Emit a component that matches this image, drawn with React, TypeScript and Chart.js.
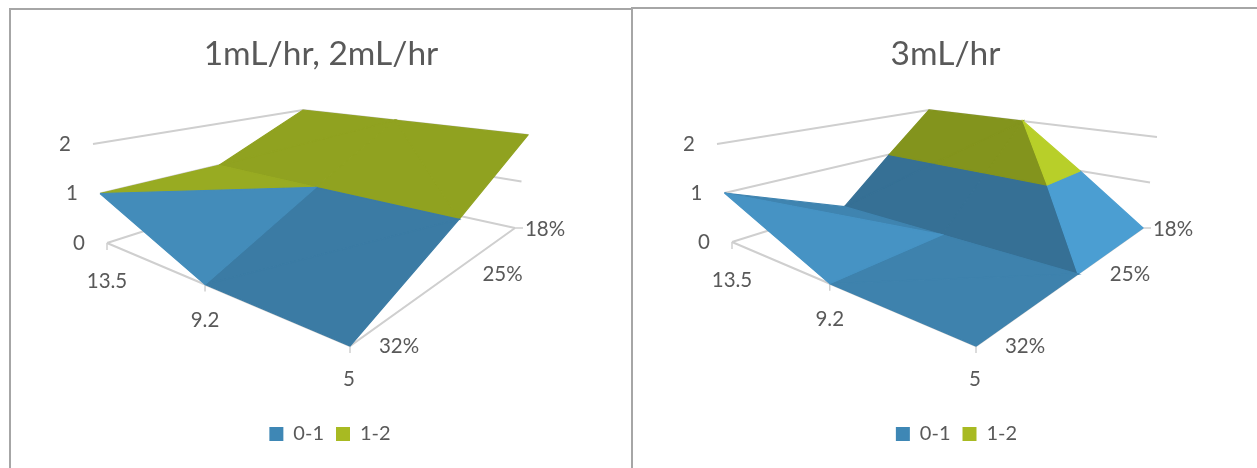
import React, { useEffect, useRef } from "react";
import { Chart, registerables } from "chart.js";

Chart.register(...registerables);

// Surface categories
const depthLabels = ["13.5", "9.2", "5"];
const rateLabels = ["32%", "25%", "18%"];
const levelLabels = ["0", "1", "2"];
const bandLabels = ["0-1", "1-2"];

// Surface heights: one row per rate, one column per depth
const lowRateHeights = [
  [1, 0, 0],
  [1, 1, 1],
  [2, 2, 2],
];
const highRateHeights = [
  [1, 0, 0],
  [0, 0, 0],
  [2, 2, 0],
];

const titleLow = "1mL/hr, 2mL/hr";
const titleHigh = "3mL/hr";

const TEXT = "#595959";
const GRID = "#CFCFCF";
const FONT = "Lato, Carlito, Calibri, sans-serif";
const BAND_SURFACE = [
  [62, 130, 173],
  [152, 171, 34],
];
const BAND_KEY = ["#3E87B5", "#A8BA22"];

type P = [number, number];

// Unit square to quadrilateral mapping for a plane of the 3-D box
function quadMap(q: P[]) {
  const [[x0, y0], [x1, y1], [x2, y2], [x3, y3]] = q;
  const dx1 = x1 - x2, dx2 = x3 - x2, sx = x0 - x1 + x2 - x3;
  const dy1 = y1 - y2, dy2 = y3 - y2, sy = y0 - y1 + y2 - y3;
  const det = dx1 * dy2 - dx2 * dy1;
  const g = (sx * dy2 - dx2 * sy) / det;
  const h = (dx1 * sy - sx * dy1) / det;
  const a = x1 - x0 + g * x1, b = x3 - x0 + h * x3;
  const d = y1 - y0 + g * y1, e = y3 - y0 + h * y3;
  return (u: number, v: number): P => {
    const w = g * u + h * v + 1;
    return [(a * u + b * v + x0) / w, (d * u + e * v + y0) / w];
  };
}

// Camera of a panel: box corners on the floor and at level 2 (depth side, front, rate side, back)
function makeCamera(floor: P[], top: P[]) {
  const f = quadMap(floor);
  const t = quadMap(top);
  return (i: number, j: number, z: number): P => {
    const a = f(i / 2, j / 2);
    const b = t(i / 2, j / 2);
    const k = z / 2;
    return [a[0] + (b[0] - a[0]) * k, a[1] + (b[1] - a[1]) * k];
  };
}

type V = [number, number, number];

// Fixed triangulation of the 3 x 3 grid, painted from back to front
const TRIANGLES: [number, number][][] = [
  [[0, 1], [1, 1], [1, 2]],
  [[0, 1], [1, 2], [0, 2]],
  [[1, 1], [2, 1], [1, 2]],
  [[2, 1], [2, 2], [1, 2]],
  [[0, 0], [1, 1], [0, 1]],
  [[1, 0], [2, 1], [1, 1]],
  [[1, 0], [2, 0], [2, 1]],
  [[0, 0], [1, 0], [1, 1]],
];

function clipZ(poly: V[], limit: number, keepAbove: boolean): V[] {
  const out: V[] = [];
  const inside = (p: V) => (keepAbove ? p[2] >= limit : p[2] <= limit);
  poly.forEach((p, n) => {
    const q = poly[(n + 1) % poly.length];
    if (inside(p)) out.push(p);
    if (inside(p) !== inside(q)) {
      const t = (limit - p[2]) / (q[2] - p[2]);
      out.push([p[0] + (q[0] - p[0]) * t, p[1] + (q[1] - p[1]) * t, limit]);
    }
  });
  return out;
}

// Lambert-style brightness of a facet from its slopes along depth and rate
function facetShade(t: V[]) {
  const [p, q, r] = t;
  const ux = q[0] - p[0], uy = q[1] - p[1], uz = q[2] - p[2];
  const vx = r[0] - p[0], vy = r[1] - p[1], vz = r[2] - p[2];
  const n = ux * vy - uy * vx;
  const a = (uz * vy - uy * vz) / n;
  const b = (ux * vz - uz * vx) / n;
  return (5 - 0.763 * a - 0.175 * b) / Math.sqrt(25 + a * a + b * b);
}

function line(points: P[], color = GRID, width = 2) {
  return {
    data: points.map(([x, y]) => ({ x, y })),
    showLine: true,
    borderColor: color,
    borderWidth: width,
    pointRadius: 0,
    fill: false,
    label: "",
    clip: false,
  };
}

function surfaceDatasets(heights: number[][], cam: (i: number, j: number, z: number) => P) {
  const sets: any[] = [];
  for (const tri of TRIANGLES) {
    const verts = tri.map(([i, j]) => [i, j, heights[j][i]] as V);
    const zs = verts.map((v) => v[2]);
    const lo = Math.min(...zs), hi = Math.max(...zs);
    const shade = facetShade(verts);
    BAND_SURFACE.forEach((rgb, band) => {
      if (lo >= band + 1) return;
      if (hi <= band && !(lo === hi && lo === band)) return;
      const part = clipZ(clipZ(verts, band, true), band + 1, false);
      if (part.length < 3) return;
      const c = rgb.map((v) => Math.min(255, Math.round(v * shade)));
      const css = `rgb(${c[0]},${c[1]},${c[2]})`;
      const pts = part.map((v) => cam(v[0], v[1], v[2]));
      pts.push(pts[0]);
      sets.push({ ...line(pts, css, 1.2), fill: "shape", backgroundColor: css });
    });
  }
  return sets;
}

function frameDatasets(cam: (i: number, j: number, z: number) => P) {
  const sets: any[] = [];
  // level lines along the two back walls
  [2, 1, 0].forEach((z) => {
    sets.push(line([cam(0, 0, z), cam(0, 2, z), cam(2, 2, z)]));
  });
  // front edges of the floor
  sets.push(line([cam(0, 0, 0), cam(2, 0, 0), cam(2, 2, 0)]));
  // tick marks
  depthLabels.forEach((_, i) => {
    const p = cam(i, 0, 0);
    sets.push(line([p, [p[0], p[1] + 7]], GRID, 1.5));
  });
  const end = cam(2, 2, 0);
  sets.push(line([end, [end[0] + 8, end[1]]], GRID, 1.5));
  return sets;
}

const depthOffsets: P[] = [[0, 38], [0, 36], [-1, 33]];
const rateOffsets: P[] = [[49, 0], [52, 0], [30, 1]];

type PanelProps = {
  title: string;
  heights: number[][];
  left: number;
  width: number;
  floor: P[];
  top: P[];
  keyShift: number;
};

function Panel({ title, heights, left, width, floor, top, keyShift }: PanelProps) {
  const ref = useRef<HTMLCanvasElement>(null);
  useEffect(() => {
    const cam = makeCamera(floor, top);
    const stack = [
      ...frameDatasets(cam),
      ...surfaceDatasets(heights, cam),
    ];
    const keys = bandLabels.map((label, n) => ({
      label,
      data: [],
      order: n,
      backgroundColor: BAND_KEY[n],
      borderColor: BAND_KEY[n],
      borderWidth: 0,
    }));
    // Lower order paints later, so the stack runs from the walls up to the nearest facet
    const layered = stack.map((d, n) => ({ ...d, order: stack.length - n + 2 }));

    // Keeps both value scales aligned with page pixels, whatever the title and legend take
    const pageScales = {
      id: "pageScales",
      afterLayout(chart: any) {
        const { chartArea: area, scales, legend } = chart;
        scales.x.min = area.left + left;
        scales.x.max = area.right + left;
        scales.y.min = area.top;
        scales.y.max = area.bottom;
        scales.x.configure();
        scales.y.configure();
        legend.left += keyShift;
        legend.right += keyShift;
        legend.legendHitBoxes.forEach((b: any) => { b.left += keyShift; });
      },
    };

    // Axis captions placed through the same camera as the surface
    const axisCaptions = {
      id: "axisCaptions",
      afterDatasetsDraw(chart: any) {
        const { ctx, scales } = chart;
        const put = (text: string, p: P, dx: number, dy: number) => {
          ctx.fillText(text, scales.x.getPixelForValue(p[0] + dx), scales.y.getPixelForValue(p[1] + dy));
        };
        ctx.save();
        ctx.font = `20.5px ${FONT}`;
        ctx.fillStyle = TEXT;
        ctx.textAlign = "center";
        ctx.textBaseline = "middle";
        levelLabels.forEach((s, z) => put(s, cam(0, 0, z), -28, 0));
        depthLabels.forEach((s, i) => put(s, cam(i, 0, 0), depthOffsets[i][0], depthOffsets[i][1]));
        rateLabels.forEach((s, j) => put(s, cam(2, j, 0), rateOffsets[j][0], rateOffsets[j][1]));
        ctx.restore();
      },
    };

    const chart = new Chart(ref.current!, {
      type: "scatter",
      data: { datasets: [...keys, ...layered] as any },
      plugins: [pageScales, axisCaptions],
      options: {
        animation: false,
        responsive: false,
        devicePixelRatio: 1,
        events: [],
        layout: { padding: { bottom: 14 } },
        scales: {
          x: { type: "linear", display: false },
          y: { type: "linear", display: false, reverse: true },
        },
        plugins: {
          title: {
            display: true,
            text: title,
            color: TEXT,
            font: { family: FONT, size: 33.5, weight: "normal" },
            padding: { top: 34, bottom: 0 },
          },
          legend: {
            display: true,
            position: "bottom",
            labels: {
              color: TEXT,
              font: { family: FONT, size: 20 },
              boxWidth: 14,
              boxHeight: 14,
              padding: 12,
              filter: (item: any) => bandLabels.includes(item.text),
            },
          },
          tooltip: { enabled: false },
        },
      },
    });
    return () => chart.destroy();
  }, []);
  return (
    <canvas
      ref={ref}
      width={width}
      height={468}
      style={{ position: "absolute", left, top: 0, width, height: 468, display: "block" }}
    />
  );
}

const BORDER = "#A6A6A6";

export default function App() {
  return (
    <div style={{ position: "fixed", left: 0, top: 0, width: 1257, height: 468, overflow: "hidden", background: "#fff" }}>
      <div style={{ position: "absolute", left: 9, top: 8, width: 623, height: 2, background: BORDER }} />
      <div style={{ position: "absolute", left: 9, top: 8, width: 2, height: 460, background: BORDER }} />
      <div style={{ position: "absolute", left: 632, top: 7, width: 625, height: 2, background: BORDER }} />
      <div style={{ position: "absolute", left: 631, top: 7, width: 2, height: 461, background: BORDER }} />
      <Panel
        title={titleLow}
        heights={lowRateHeights}
        left={11}
        width={620}
        floor={[[107, 243], [350, 346], [515, 228], [300, 181]]}
        top={[[93, 144], [350, 222], [528, 135], [303, 110]]}
        keyShift={9}
      />
      <Panel
        title={titleHigh}
        heights={highRateHeights}
        left={634}
        width={623}
        floor={[[732, 242], [976, 346], [1143, 228], [926, 181]]}
        top={[[717, 144], [976, 222], [1157, 137], [929, 110]]}
        keyShift={11}
      />
    </div>
  );
}
